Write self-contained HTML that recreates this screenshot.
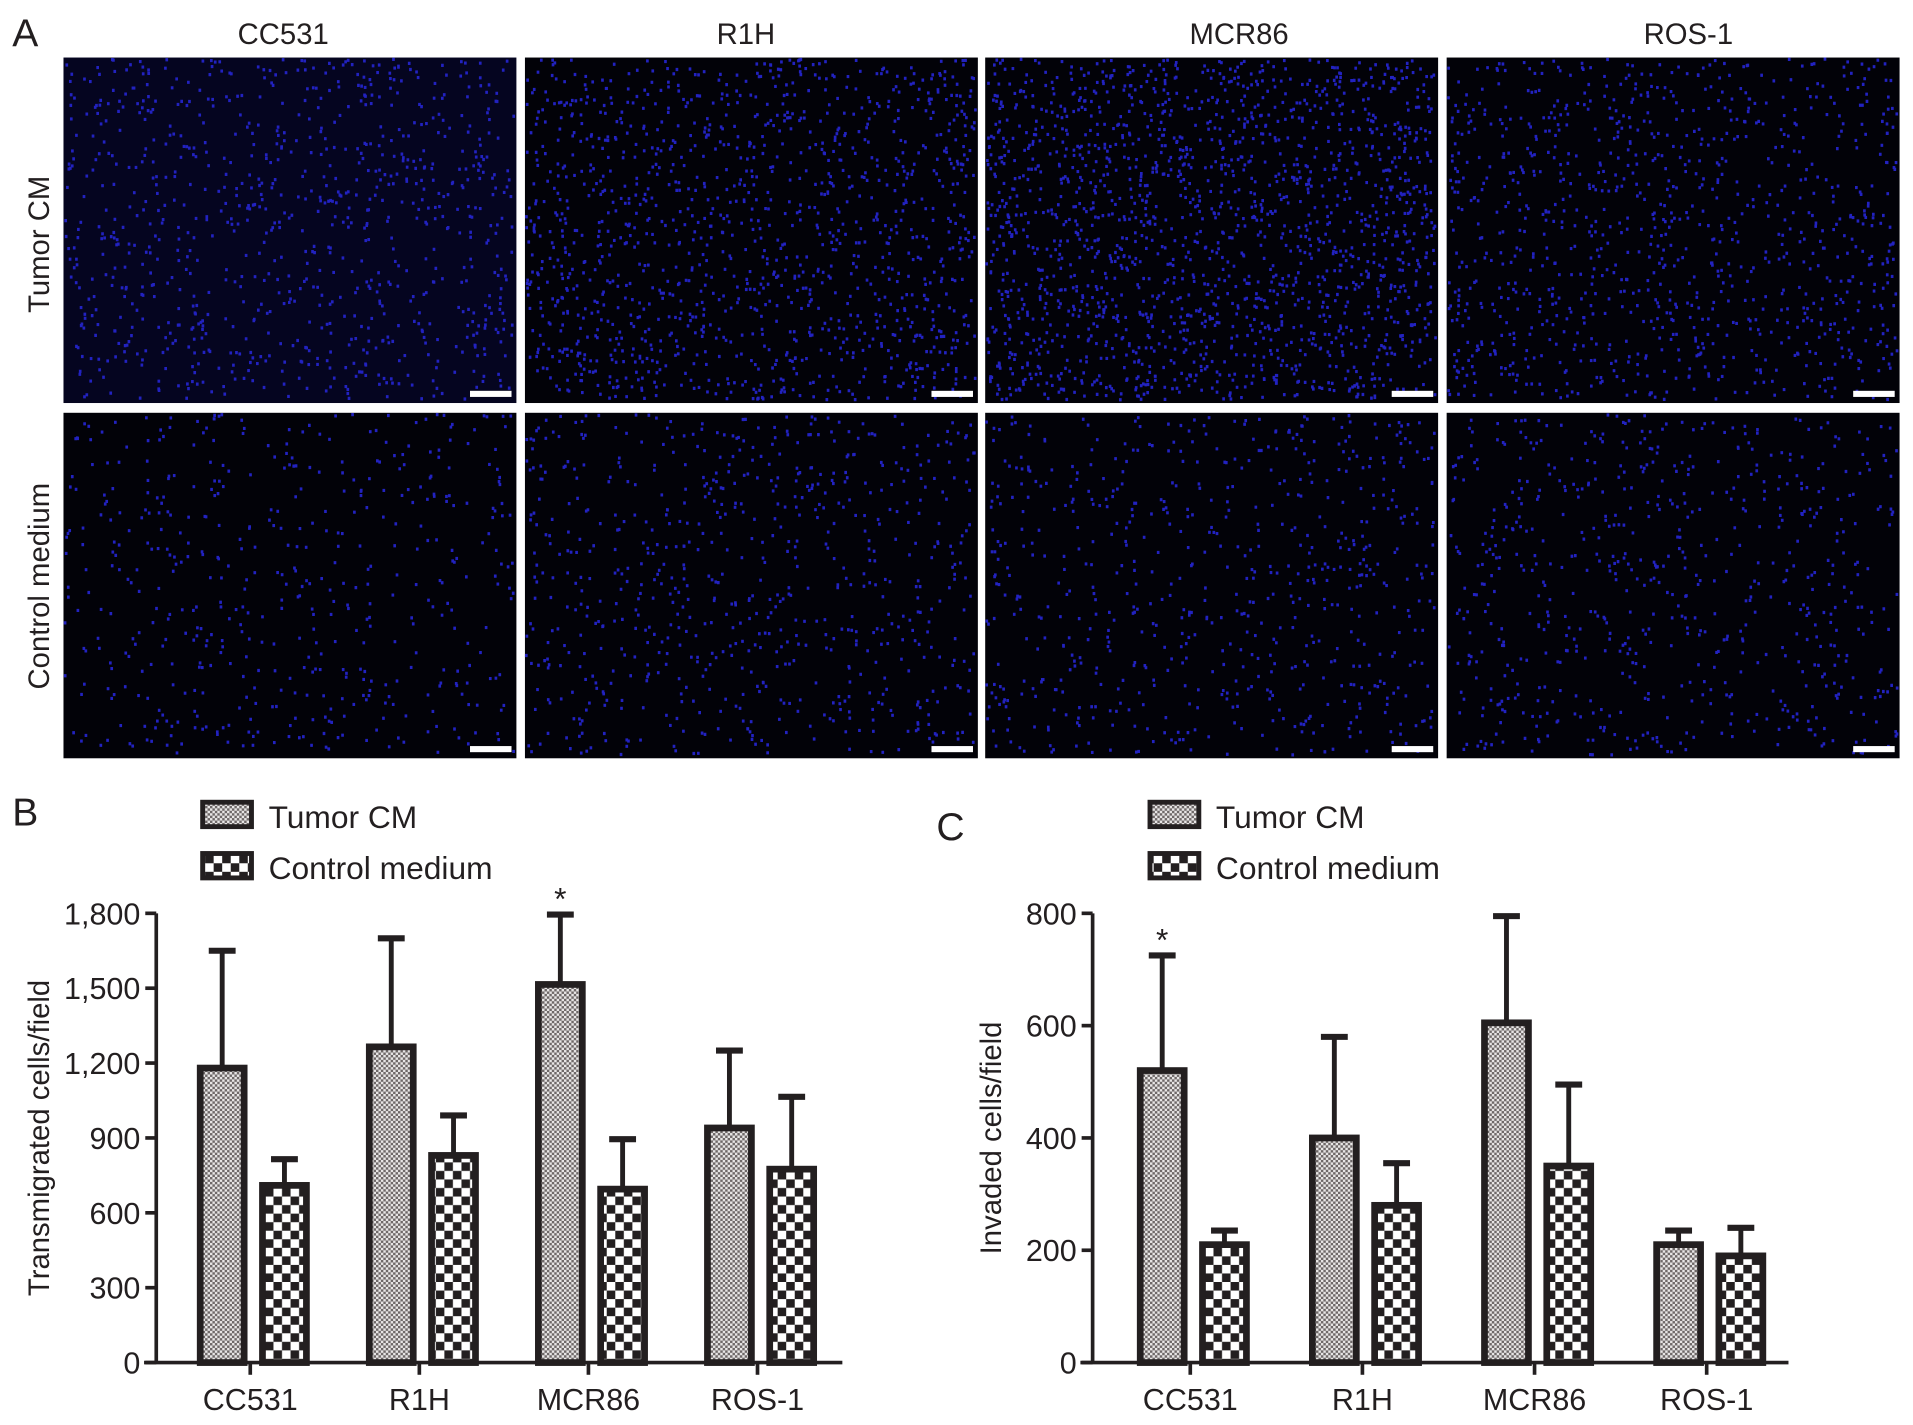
<!DOCTYPE html>
<html><head><meta charset="utf-8">
<style>
html,body{margin:0;padding:0;background:#fff;}
svg{display:block;}
text{font-family:"Liberation Sans Narrow","Liberation Sans",sans-serif;fill:#231f20;}
.ar{font-family:"Liberation Sans",sans-serif;}
</style></head>
<body>
<svg id="fig" width="1913" height="1425" viewBox="0 0 1567 1167" xmlns="http://www.w3.org/2000/svg">
<defs>
<pattern id="fine" width="4" height="4" patternUnits="userSpaceOnUse">
<rect width="4" height="4" fill="#e8e6e6"/><rect width="2" height="2" fill="#6e6868"/><rect x="2" y="2" width="2" height="2" fill="#6e6868"/>
</pattern>
<pattern id="coarse" width="14" height="14" patternUnits="userSpaceOnUse">
<rect width="14" height="14" fill="#fff"/><rect width="7" height="7" fill="#231f20"/><rect x="7" y="7" width="7" height="7" fill="#231f20"/>
</pattern>
</defs>
<g id="panelA">
<text x="10" y="38" font-size="32">A</text>
<text x="232" y="36" font-size="24" text-anchor="middle" class="ar">CC531</text>
<text x="611" y="36" font-size="24" text-anchor="middle" class="ar">R1H</text>
<text x="1015" y="36" font-size="24" text-anchor="middle" class="ar">MCR86</text>
<text x="1383" y="36" font-size="24" text-anchor="middle" class="ar">ROS-1</text>
<text transform="translate(40,200) rotate(-90)" font-size="24" text-anchor="middle" class="ar">Tumor CM</text>
<text transform="translate(40,480) rotate(-90)" font-size="24" text-anchor="middle" class="ar">Control medium</text>
<g id="imgs"></g>
</g>
<g id="chartB"></g>
<g id="chartC"></g>
</svg>
<script>
// Chart B data
const categories = ["CC531","R1H","MCR86","ROS-1"];
const bTumor = [1180,1265,1515,940];
const bTumorErr = [1650,1700,1795,1250];
const bControl = [710,830,695,775];
const bControlErr = [815,990,895,1065];
const bTicks = [0,300,600,900,1200,1500,1800];
const bTickLabels = ["0","300","600","900","1,200","1,500","1,800"];
// Chart C data
const cTumor = [520,400,605,210];
const cTumorErr = [725,580,795,235];
const cControl = [210,280,350,190];
const cControlErr = [235,355,495,240];
const cTicks = [0,200,400,600,800];
const cTickLabels = ["0","200","400","600","800"];

const NS="http://www.w3.org/2000/svg";
function mk(tag,attrs,parent){const e=document.createElementNS(NS,tag);for(const k in attrs)e.setAttribute(k,attrs[k]);parent.appendChild(e);return e;}

// microscope images
const imgs=document.getElementById('imgs');
const cols=[52,430,807,1185], rows=[47,338], pw=371, ph=283;
const dens=[[900,1300,1800,1000],[500,700,650,650]];
let seed=12345;function rnd(){seed=(seed*1103515245+12345)%2147483648;return seed/2147483648;}
rows.forEach((ry,ri)=>cols.forEach((cx,ci)=>{
  const g=mk('g',{},imgs);
  
  
  mk('rect',{x:cx,y:ry,width:pw,height:ph,fill:(ri===0&&ci===0)?'#050520':'#020208'},g);
  let d='';
  for(let i=0;i<dens[ri][ci];i++){const x=cx+rnd()*(pw-3),y=ry+rnd()*(ph-4);d+='M'+x.toFixed(1)+' '+y.toFixed(1)+'h2.2v2.6h-2.2z';}
  mk('path',{d:d,fill:'#2222c0'},g);
  const sb=mk('rect',{x:cx+pw-38,y:ry+ph-10,width:34,height:5,fill:'#fff'},g);
  
  
}));

function chart(gid,o){
  const g=document.getElementById(gid);
  const y=v=>o.y0-(v/o.max)*(o.y0-o.yTop);
  [['Tumor CM','url(#fine)',0],['Control medium','url(#coarse)',1]].forEach(([t,f,i])=>{
    const r=mk('rect',{x:o.lx,y:o.ly+i*42,width:40,height:20,fill:f,stroke:'#231f20','stroke-width':4},g);
    
    
    const tx=mk('text',{x:o.lx+54,y:o.ly+i*42+21,'font-size':26},g);
    tx.textContent=t;
    
    
  });
  const lab=mk('text',{x:o.labX,y:o.labY,'font-size':32,class:'ar'},g);lab.textContent=o.label;
  
  
  const ya=mk('line',{x1:o.ax,y1:o.yTop,x2:o.ax,y2:o.y0+1,stroke:'#231f20','stroke-width':3},g);
  
  
  const xa=mk('line',{x1:o.ax-10,y1:o.y0,x2:o.xEnd,y2:o.y0,stroke:'#231f20','stroke-width':3},g);
  
  
  o.ticks.forEach((t,i)=>{
    mk('line',{x1:o.ax-9,y1:y(t),x2:o.ax,y2:y(t),stroke:'#231f20','stroke-width':3},g);
    const tx=mk('text',{x:o.ax-13,y:y(t)+9,'font-size':25,'text-anchor':'end'},g);tx.textContent=o.tickLabels[i];
    
    
  });
  const yt=mk('text',{transform:`translate(${o.titleX},${(o.yTop+o.y0)/2}) rotate(-90)`,'font-size':24,'text-anchor':'middle',class:'ar'},g);
  yt.textContent=o.title;
  
  
  categories.forEach((c,i)=>{
    const cx=o.ax+o.first+i*o.step;
    mk('line',{x1:cx,y1:o.y0,x2:cx,y2:o.y0+10,stroke:'#231f20','stroke-width':3},g);
    const tx=mk('text',{x:cx,y:o.y0+39,'font-size':25,'text-anchor':'middle'},g);tx.textContent=c;
    
    
    [[o.t[i],o.te[i],-41,'url(#fine)','tumor'],[o.c[i],o.ce[i],10,'url(#coarse)','control']].forEach(([v,e,dx,f,n])=>{
      const bx=cx+dx, mid=bx+18;
      mk('line',{x1:mid,y1:y(v),x2:mid,y2:y(e),stroke:'#231f20','stroke-width':4},g);
      mk('line',{x1:mid-11,y1:y(e),x2:mid+11,y2:y(e),stroke:'#231f20','stroke-width':5},g);
      const b=mk('rect',{x:bx,y:y(v),width:36,height:o.y0-y(v),fill:f,stroke:'#231f20','stroke-width':5.5},g);
      
      
    });
    if(o.star===i){
      const s=mk('text',{x:cx-23,y:y(o.te[i])-4,'font-size':26,'text-anchor':'middle',class:'ar'},g);s.textContent='*';
      
      
    }
  });
}
chart('chartB',{ax:128,xEnd:690,y0:1116,yTop:748,max:1800,first:77,step:138.5,t:bTumor,te:bTumorErr,c:bControl,ce:bControlErr,
  ticks:bTicks,tickLabels:bTickLabels,title:'Transmigrated cells/field',titleX:40,lx:166,ly:657,label:'B',labX:10,labY:676,star:2});
chart('chartC',{ax:895,xEnd:1465,y0:1116,yTop:748,max:800,first:80,step:141,t:cTumor,te:cTumorErr,c:cControl,ce:cControlErr,
  ticks:cTicks,tickLabels:cTickLabels,title:'Invaded cells/field',titleX:820,lx:942,ly:657,label:'C',labX:767,labY:688,star:0});
</script>
</body></html>
